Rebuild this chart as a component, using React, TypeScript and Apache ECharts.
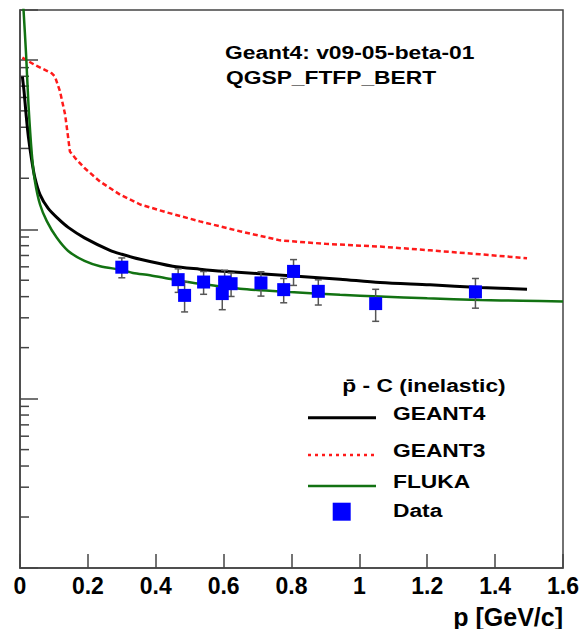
import React, { useEffect, useRef } from 'react';
import * as echarts from 'echarts';

const xTickLabels = ['0', '0.2', '0.4', '0.6', '0.8', '1', '1.2', '1.4', '1.6'];
const yMinorTicks = [20, 30, 40, 50, 60, 70, 80, 90, 200, 300, 400, 500, 600, 700, 800, 900, 2000, 3000, 4000, 5000, 6000, 7000, 8000, 9000];

const geant4P = [0.007, 0.012, 0.018, 0.025, 0.035, 0.044, 0.059, 0.083, 0.113, 0.142, 0.19, 0.265, 0.3, 0.354, 0.45, 0.53, 0.598, 0.7955, 0.943, 1.061, 1.208, 1.355, 1.494];
const geant4V = [7960, 6500, 4750, 3480, 2520, 2010, 1600, 1327, 1151, 1026, 890, 751, 712, 665, 605, 581, 565, 532, 507, 485, 470, 453, 443];

const geant3P = [0.007, 0.044, 0.093, 0.103, 0.118, 0.133, 0.142, 0.147, 0.162, 0.19, 0.236, 0.295, 0.354, 0.433, 0.53, 0.648, 0.766, 0.9, 1.061, 1.208, 1.355, 1.494];
const geant3V = [10300, 9330, 8340, 7970, 6500, 4750, 3460, 2880, 2640, 2300, 1910, 1600, 1400, 1257, 1113, 973, 860, 820, 790, 751, 712, 674];

const flukaP = [0.009, 0.018, 0.025, 0.035, 0.044, 0.059, 0.079, 0.108, 0.142, 0.19, 0.236, 0.3, 0.333, 0.383, 0.451, 0.53, 0.648, 0.7955, 0.943, 1.061, 1.2, 1.355, 1.48, 1.6];
const flukaV = [22000, 10700, 5430, 2760, 1920, 1400, 1117, 893, 744, 650, 605, 575, 552, 535, 505, 476, 446, 426, 410, 401, 391, 382, 378, 375];

const dataP = [0.3, 0.466, 0.485, 0.541, 0.596, 0.603, 0.622, 0.71, 0.777, 0.806, 0.879, 1.048, 1.342];
const dataV = [597, 504, 407, 488, 417, 488, 477, 482, 440, 564, 430, 364, 427];
const dataErr = [80, 80, 82, 75, 82, 85, 76, 79, 72, 98, 73, 78, 85];

const FONT = '"Liberation Sans", Arial, Helvetica, sans-serif';
const AXIS_COLOR = '#444';
const GREEN = '#127212';

function zip(a: number[], b: number[]) {
  return a.map((v, i) => [v, b[i]]);
}

function txt(text: string, x: number, y: number, align = 'left') {
  return {
    type: 'text',
    x,
    y,
    scaleX: 1.2,
    z: 10,
    style: {
      text,
      fill: '#000',
      fontFamily: FONT,
      fontWeight: 'bold',
      fontSize: 19,
      align,
      verticalAlign: 'middle',
    },
  };
}

export default function App() {
  const ref = useRef<HTMLDivElement>(null);
  useEffect(() => {
    const chart = echarts.init(ref.current!, null, { renderer: 'svg' });
    const option: any = {
      animation: false,
      backgroundColor: '#fff',
      grid: {
        left: 20,
        right: 20,
        top: 10,
        bottom: 59,
        show: true,
        borderColor: AXIS_COLOR,
        borderWidth: 1.5,
        backgroundColor: 'transparent',
      },
      xAxis: {
        type: 'value',
        min: 0,
        max: 1.6,
        interval: 0.2,
        axisLine: { show: true, lineStyle: { color: AXIS_COLOR, width: 1.5 } },
        axisTick: { show: true, inside: true, length: 14, lineStyle: { color: AXIS_COLOR, width: 1.5 } },
        splitLine: { show: false },
        axisLabel: {
          color: '#000',
          fontFamily: FONT,
          fontWeight: 'bold',
          fontSize: 23,
          margin: 6,
          showMinLabel: true,
          showMaxLabel: true,
          formatter: (v: number) => xTickLabels[Math.round(v / 0.2)] ?? '',
        },
        name: 'p [GeV/c]',
        nameLocation: 'end',
        nameGap: 0,
        nameTextStyle: {
          color: '#000',
          fontFamily: FONT,
          fontWeight: 'bold',
          fontSize: 25,
          align: 'right',
          verticalAlign: 'top',
          padding: [36, 0, 0, 0],
        },
      },
      yAxis: {
        type: 'log',
        logBase: 10,
        min: 10,
        max: 19700,
        axisLine: { show: true, lineStyle: { color: AXIS_COLOR, width: 1.5 } },
        axisTick: { show: true, inside: true, length: 18, lineStyle: { color: AXIS_COLOR, width: 1.5 } },
        axisLabel: { show: false },
        splitLine: { show: false },
      },
      series: [
        {
          type: 'custom',
          name: 'minorTicks',
          silent: true,
          z: 1,
          data: yMinorTicks.map((v) => [0, v]),
          renderItem: (params: any, api: any) => {
            const p = api.coord([0, api.value(1)]);
            return {
              type: 'line',
              shape: { x1: p[0], y1: p[1], x2: p[0] + 9, y2: p[1] },
              style: { stroke: AXIS_COLOR, lineWidth: 1.5 },
            };
          },
        },
        {
          type: 'line',
          name: 'GEANT3',
          data: zip(geant3P, geant3V),
          showSymbol: false,
          symbol: 'none',
          z: 2,
          lineStyle: { color: '#ff1a1a', width: 2.5, type: [5, 3] },
        },
        {
          type: 'line',
          name: 'GEANT4',
          data: zip(geant4P, geant4V),
          showSymbol: false,
          symbol: 'none',
          smooth: 0.3,
          z: 2,
          lineStyle: { color: '#000', width: 3 },
        },
        {
          type: 'line',
          name: 'FLUKA',
          data: zip(flukaP, flukaV),
          showSymbol: false,
          symbol: 'none',
          smooth: 0.3,
          z: 2,
          lineStyle: { color: GREEN, width: 2.5 },
        },
        {
          type: 'custom',
          name: 'errors',
          silent: true,
          z: 3,
          data: dataP.map((p, i) => [p, dataV[i], dataErr[i]]),
          renderItem: (params: any, api: any) => {
            const x = api.value(0);
            const y = api.value(1);
            const e = api.value(2);
            const t = api.coord([x, y + e]);
            const b = api.coord([x, y - e]);
            const c = 3.5;
            const st = { stroke: '#555', lineWidth: 1.5 };
            return {
              type: 'group',
              children: [
                { type: 'line', shape: { x1: t[0], y1: t[1], x2: b[0], y2: b[1] }, style: st },
                { type: 'line', shape: { x1: t[0] - c, y1: t[1], x2: t[0] + c, y2: t[1] }, style: st },
                { type: 'line', shape: { x1: b[0] - c, y1: b[1], x2: b[0] + c, y2: b[1] }, style: st },
              ],
            };
          },
        },
        {
          type: 'scatter',
          name: 'Data',
          data: zip(dataP, dataV),
          symbol: 'rect',
          symbolSize: 13,
          z: 4,
          itemStyle: { color: '#0000ff', opacity: 1 },
        },
      ],
      graphic: [
        txt('Geant4: v09-05-beta-01', 225, 52),
        txt('QGSP_FTFP_BERT', 226, 77.5),
        txt('p\u0304 - C (inelastic)', 424, 385, 'center'),
        txt('GEANT4', 393, 413.5),
        txt('GEANT3', 393, 450.5),
        txt('FLUKA', 393, 481),
        txt('Data', 393, 510.5),
        { type: 'line', z: 10, shape: { x1: 308, y1: 417.7, x2: 376, y2: 417.7 }, style: { stroke: '#000', lineWidth: 3 } },
        { type: 'line', z: 10, shape: { x1: 308, y1: 455, x2: 376, y2: 455 }, style: { stroke: '#ff1a1a', lineWidth: 2.5, lineDash: [3, 4] } },
        { type: 'line', z: 10, shape: { x1: 308, y1: 486, x2: 376, y2: 486 }, style: { stroke: GREEN, lineWidth: 2.5 } },
        { type: 'rect', z: 10, shape: { x: 332.7, y: 502.7, width: 18, height: 18 }, style: { fill: '#0000ff' } },
      ],
    };
    chart.setOption(option);
    return () => chart.dispose();
  }, []);
  return (
    <div
      ref={ref}
      style={{ position: 'absolute', left: 0, top: 0, width: 583, height: 629, background: '#fff' }}
    />
  );
}
